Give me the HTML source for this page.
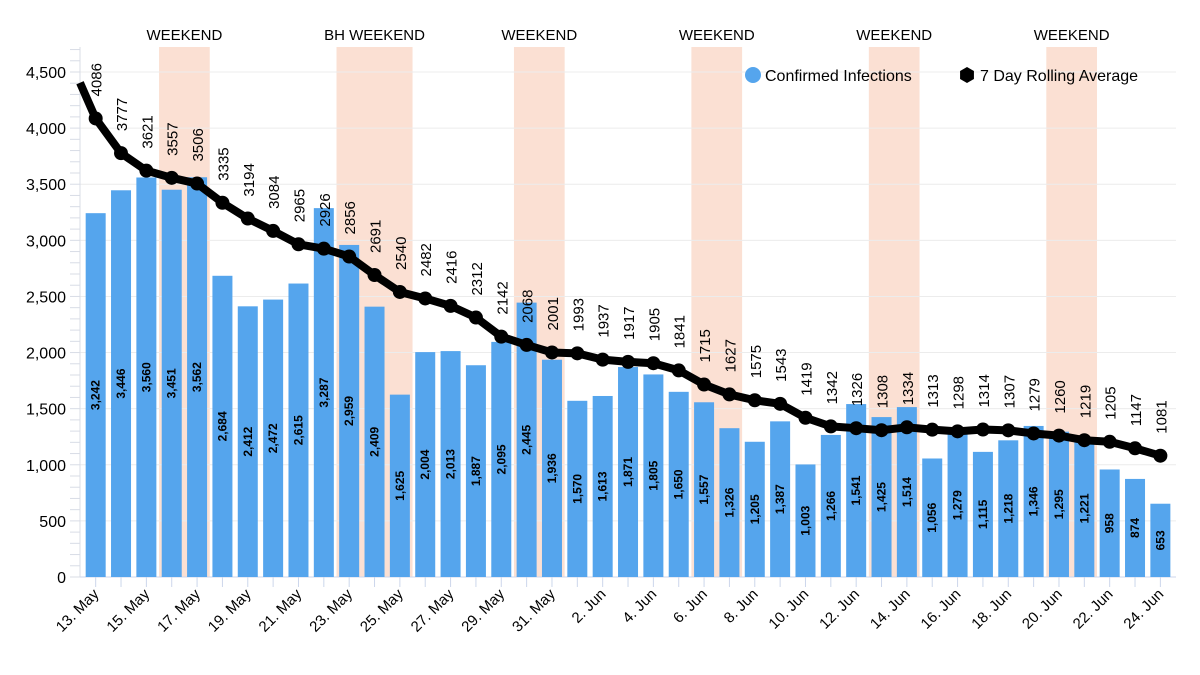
<!DOCTYPE html>
<html><head><meta charset="utf-8"><style>
body{margin:0;background:#fff}
svg{display:block;font-family:"Liberation Sans",sans-serif}
</style></head><body>
<svg id="chart" width="1200" height="675"></svg>
<script>
const dates=["13. May","14. May","15. May","16. May","17. May","18. May","19. May","20. May","21. May","22. May","23. May","24. May","25. May","26. May","27. May","28. May","29. May","30. May","31. May","1. Jun","2. Jun","3. Jun","4. Jun","5. Jun","6. Jun","7. Jun","8. Jun","9. Jun","10. Jun","11. Jun","12. Jun","13. Jun","14. Jun","15. Jun","16. Jun","17. Jun","18. Jun","19. Jun","20. Jun","21. Jun","22. Jun","23. Jun","24. Jun"];
const infections=[3242,3446,3560,3451,3562,2684,2412,2472,2615,3287,2959,2409,1625,2004,2013,1887,2095,2445,1936,1570,1613,1871,1805,1650,1557,1326,1205,1387,1003,1266,1541,1425,1514,1056,1279,1115,1218,1346,1295,1221,958,874,653];
const rolling=[4086,3777,3621,3557,3506,3335,3194,3084,2965,2926,2856,2691,2540,2482,2416,2312,2142,2068,2001,1993,1937,1917,1905,1841,1715,1627,1575,1543,1419,1342,1326,1308,1334,1313,1298,1314,1307,1279,1260,1219,1205,1147,1081];
const priorRolling=4600;
const bandStart=[3,10,17,24,31,38];
const bandLen=[2,3,2,2,2,2];
const bandLabels=["WEEKEND","BH WEEKEND","WEEKEND","WEEKEND","WEEKEND","WEEKEND"];
const yTicks=[0,500,1000,1500,2000,2500,3000,3500,4000,4500];

const NS="http://www.w3.org/2000/svg";
const svg=document.getElementById('chart');
const L=83,CW=25.35,Y0=577,K=(577-72)/4500,TOP=47;
const x=i=>L+CW*(i+0.5);
const y=v=>Y0-v*K;
function el(t,a,p){const e=document.createElementNS(NS,t);for(const k in a)e.setAttribute(k,a[k]);(p||svg).appendChild(e);return e;}
function fmt(n){return n.toLocaleString('en-US');}

bandStart.forEach((s,i)=>{
  const r=el('rect',{x:L+CW*s,y:TOP,width:CW*bandLen[i],height:Y0-TOP,fill:'#fbe0d3'});
  
  
  const t=el('text',{x:L+CW*(s+bandLen[i]/2),y:40,'text-anchor':'middle','font-size':15,fill:'#000'});
  t.textContent=bandLabels[i];
  
  
});
yTicks.forEach(v=>{
  const g=el('line',{x1:80,x2:1176,y1:y(v),y2:y(v),stroke:'#ececec'});
  
  
  const t=el('text',{x:66,y:y(v)+6,'text-anchor':'end','font-size':16,fill:'#000'});
  t.textContent=fmt(v);
  
  
});
for(let v=0;v<=4700;v+=100){el('line',{x1:70,x2:80,y1:y(v),y2:y(v),stroke:'#d8dce6'});}
el('line',{x1:80,x2:80,y1:TOP,y2:Y0,stroke:'#d8dce6'});
el('line',{x1:80,x2:1176,y1:Y0,y2:Y0,stroke:'#ccd6eb'});

infections.forEach((v,i)=>{
  const b=el('rect',{x:x(i)-10,y:y(v),width:20,height:v*K,fill:'#55a5ed'});
  
  
  const my=(y(v)+Y0)/2;
  const t=el('text',{x:x(i)+4,y:my,transform:`rotate(-90 ${x(i)+4} ${my})`,'text-anchor':'middle','font-size':12,'font-weight':'bold',fill:'#000'});
  t.textContent=fmt(v);
  
  
});
dates.forEach((d,i)=>{
  el('line',{x1:x(i),x2:x(i),y1:Y0,y2:Y0+10,stroke:'#ccd6eb'});
  if(i%2===0){
    const t=el('text',{x:x(i)+4,y:Y0+18,transform:`rotate(-45 ${x(i)+4} ${Y0+18})`,'text-anchor':'end','font-size':15,fill:'#000'});
    t.textContent=d;
    
    
  }
});
const startFrac=(80-(x(0)-CW))/CW;
let pts=`80,${y(priorRolling+(rolling[0]-priorRolling)*startFrac)} `+rolling.map((v,i)=>`${x(i)},${y(v)}`).join(' ');
const line=el('polyline',{points:pts,fill:'none',stroke:'#000','stroke-width':8,'stroke-linejoin':'round'});


rolling.forEach((v,i)=>{
  const c=el('circle',{cx:x(i),cy:y(v),r:7,fill:'#000'});
  
  
  const ly=y(v)-22;
  const t=el('text',{x:x(i)+6,y:ly,transform:`rotate(-90 ${x(i)+6} ${ly})`,'text-anchor':'start','font-size':15,fill:'#000'});
  t.textContent=v;
  
  
});
const lg1=el('circle',{cx:753,cy:75,r:8,fill:'#55a5ed'});


const lt1=el('text',{x:765,y:81,'font-size':16,fill:'#000'});lt1.textContent='Confirmed Infections';


const hx=967,hy=75,hr=8;
const lg2=el('polygon',{points:[0,1,2,3,4,5].map(k=>`${hx+hr*Math.cos(k*Math.PI/3+Math.PI/6)},${hy+hr*Math.sin(k*Math.PI/3+Math.PI/6)}`).join(' '),fill:'#000'});


const lt2=el('text',{x:980,y:81,'font-size':16,fill:'#000'});lt2.textContent='7 Day Rolling Average';


</script>
</body></html>
